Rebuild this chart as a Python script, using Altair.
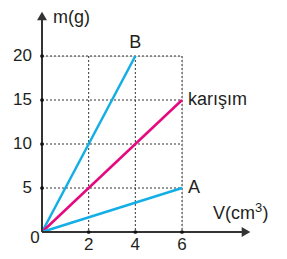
import altair as alt
import pandas as pd

# data
series = ["B", "B", "karışım", "karışım", "A", "A"]
volume = [0, 4, 0, 6, 0, 6]
mass = [0, 20, 0, 15, 0, 5]
x_ticks = [2, 4, 6]
y_ticks = [5, 10, 15, 20]
end_labels = ["B", "karışım", "A"]
end_v = [4, 6, 6]
end_m = [20, 15, 5]

BLUE = "#13aee6"
PINK = "#e6087e"
DARK = "#333333"
TXT = "#231f20"
FONT = "Liberation Sans"

lines_df = pd.DataFrame({"series": series, "V": volume, "m": mass})
xt_df = pd.DataFrame({"v": x_ticks, "lab": [str(t) for t in x_ticks]})
yt_df = pd.DataFrame({"m": y_ticks, "lab": [str(t) for t in y_ticks]})
end_df = pd.DataFrame({"lab": end_labels, "V": end_v, "m": end_m})

xs = alt.Scale(domain=[0, 6], nice=False, zero=False)
ys = alt.Scale(domain=[0, 20], nice=False, zero=False)

one = pd.DataFrame({"a": [0]})

# grid (dotted)
hgrid = alt.Chart(yt_df).mark_rule(color=DARK, strokeDash=[2, 2], strokeWidth=1).encode(
    y=alt.Y("m:Q", scale=ys, axis=None), x=alt.value(0), x2=alt.value(140))
vgrid = alt.Chart(xt_df).mark_rule(color=DARK, strokeDash=[2, 2], strokeWidth=1).encode(
    x=alt.X("v:Q", scale=xs, axis=None), y=alt.value(0), y2=alt.value(176))

# axes
yaxis = alt.Chart(one).mark_rule(color=DARK, strokeWidth=2).encode(
    x=alt.value(0), y=alt.value(176), y2=alt.value(-36))
xaxis = alt.Chart(one).mark_rule(color=DARK, strokeWidth=2).encode(
    y=alt.value(176), x=alt.value(0), x2=alt.value(200))
yarrow = alt.Chart(one).mark_point(
    shape="triangle-up", filled=True, color=DARK, opacity=1, size=100).encode(
    x=alt.value(0), y=alt.value(-40))
xarrow = alt.Chart(one).mark_point(
    shape="triangle-right", filled=True, color=DARK, opacity=1, size=100).encode(
    x=alt.value(204), y=alt.value(176))

# tick dots
ydots = alt.Chart(yt_df).mark_circle(color="#111111", size=14, opacity=1).encode(
    y=alt.Y("m:Q", scale=ys), x=alt.value(0))
xdots = alt.Chart(xt_df).mark_circle(color="#111111", size=14, opacity=1).encode(
    x=alt.X("v:Q", scale=xs), y=alt.value(176))

# tick labels
ylabels = alt.Chart(yt_df).mark_text(align="right", baseline="middle", dx=-10, fontSize=17,
                                      font=FONT, color=TXT).encode(
    y=alt.Y("m:Q", scale=ys), x=alt.value(0), text="lab:N")
xlabels = alt.Chart(xt_df).mark_text(align="center", baseline="middle", dy=13, fontSize=17,
                                      font=FONT, color=TXT).encode(
    x=alt.X("v:Q", scale=xs), y=alt.value(176), text="lab:N")
zero = alt.Chart(pd.DataFrame({"lab": ["0"]})).mark_text(
    align="center", baseline="middle", fontSize=17, font=FONT, color=TXT).encode(
    x=alt.value(-7), y=alt.value(182), text="lab:N")

# data lines
lines = alt.Chart(lines_df).mark_line(strokeWidth=2.5).encode(
    x=alt.X("V:Q", scale=xs),
    y=alt.Y("m:Q", scale=ys),
    detail="series:N",
    color=alt.Color("series:N", scale=alt.Scale(domain=["A", "B", "karışım"],
                                                range=[BLUE, BLUE, PINK]), legend=None),
)

# end labels
lab_b = alt.Chart(end_df[end_df.lab == "B"]).mark_text(
    align="center", baseline="middle", dy=-13, fontSize=18, font=FONT, color=TXT).encode(
    x=alt.X("V:Q", scale=xs), y=alt.Y("m:Q", scale=ys), text="lab:N")
lab_r = alt.Chart(end_df[end_df.lab != "B"]).mark_text(
    align="left", baseline="middle", dx=6, fontSize=18, font=FONT, color=TXT).encode(
    x=alt.X("V:Q", scale=xs), y=alt.Y("m:Q", scale=ys), text="lab:N")

# axis titles
ytitle = alt.Chart(pd.DataFrame({"lab": ["m(g)"]})).mark_text(
    align="left", baseline="top", fontSize=18, font=FONT, color=TXT).encode(
    x=alt.value(11), y=alt.value(-47), text="lab:N")
xtitle_a = alt.Chart(pd.DataFrame({"lab": ["V(cm"]})).mark_text(
    align="left", baseline="middle", fontSize=18, font=FONT, color=TXT).encode(
    x=alt.value(171), y=alt.value(158), text="lab:N")
xtitle_sup = alt.Chart(pd.DataFrame({"lab": ["3"]})).mark_text(
    align="left", baseline="middle", fontSize=13, font=FONT, color=TXT).encode(
    x=alt.value(213), y=alt.value(152), text="lab:N")
xtitle_b = alt.Chart(pd.DataFrame({"lab": [")"]})).mark_text(
    align="left", baseline="middle", fontSize=18, font=FONT, color=TXT).encode(
    x=alt.value(220.5), y=alt.value(158), text="lab:N")

chart = alt.layer(
    hgrid, vgrid, lines, yaxis, xaxis, yarrow, xarrow, ydots, xdots,
    ylabels, xlabels, zero, lab_b, lab_r, ytitle, xtitle_a, xtitle_sup, xtitle_b
).properties(
    width=140, height=176,
    autosize=alt.AutoSizeParams(type="none"),
    padding={"left": 34, "top": 48, "right": 97, "bottom": 30},
).configure_view(stroke=None).configure(background="white")

chart.save("out.html", embed_options={"renderer": "svg", "actions": False})
